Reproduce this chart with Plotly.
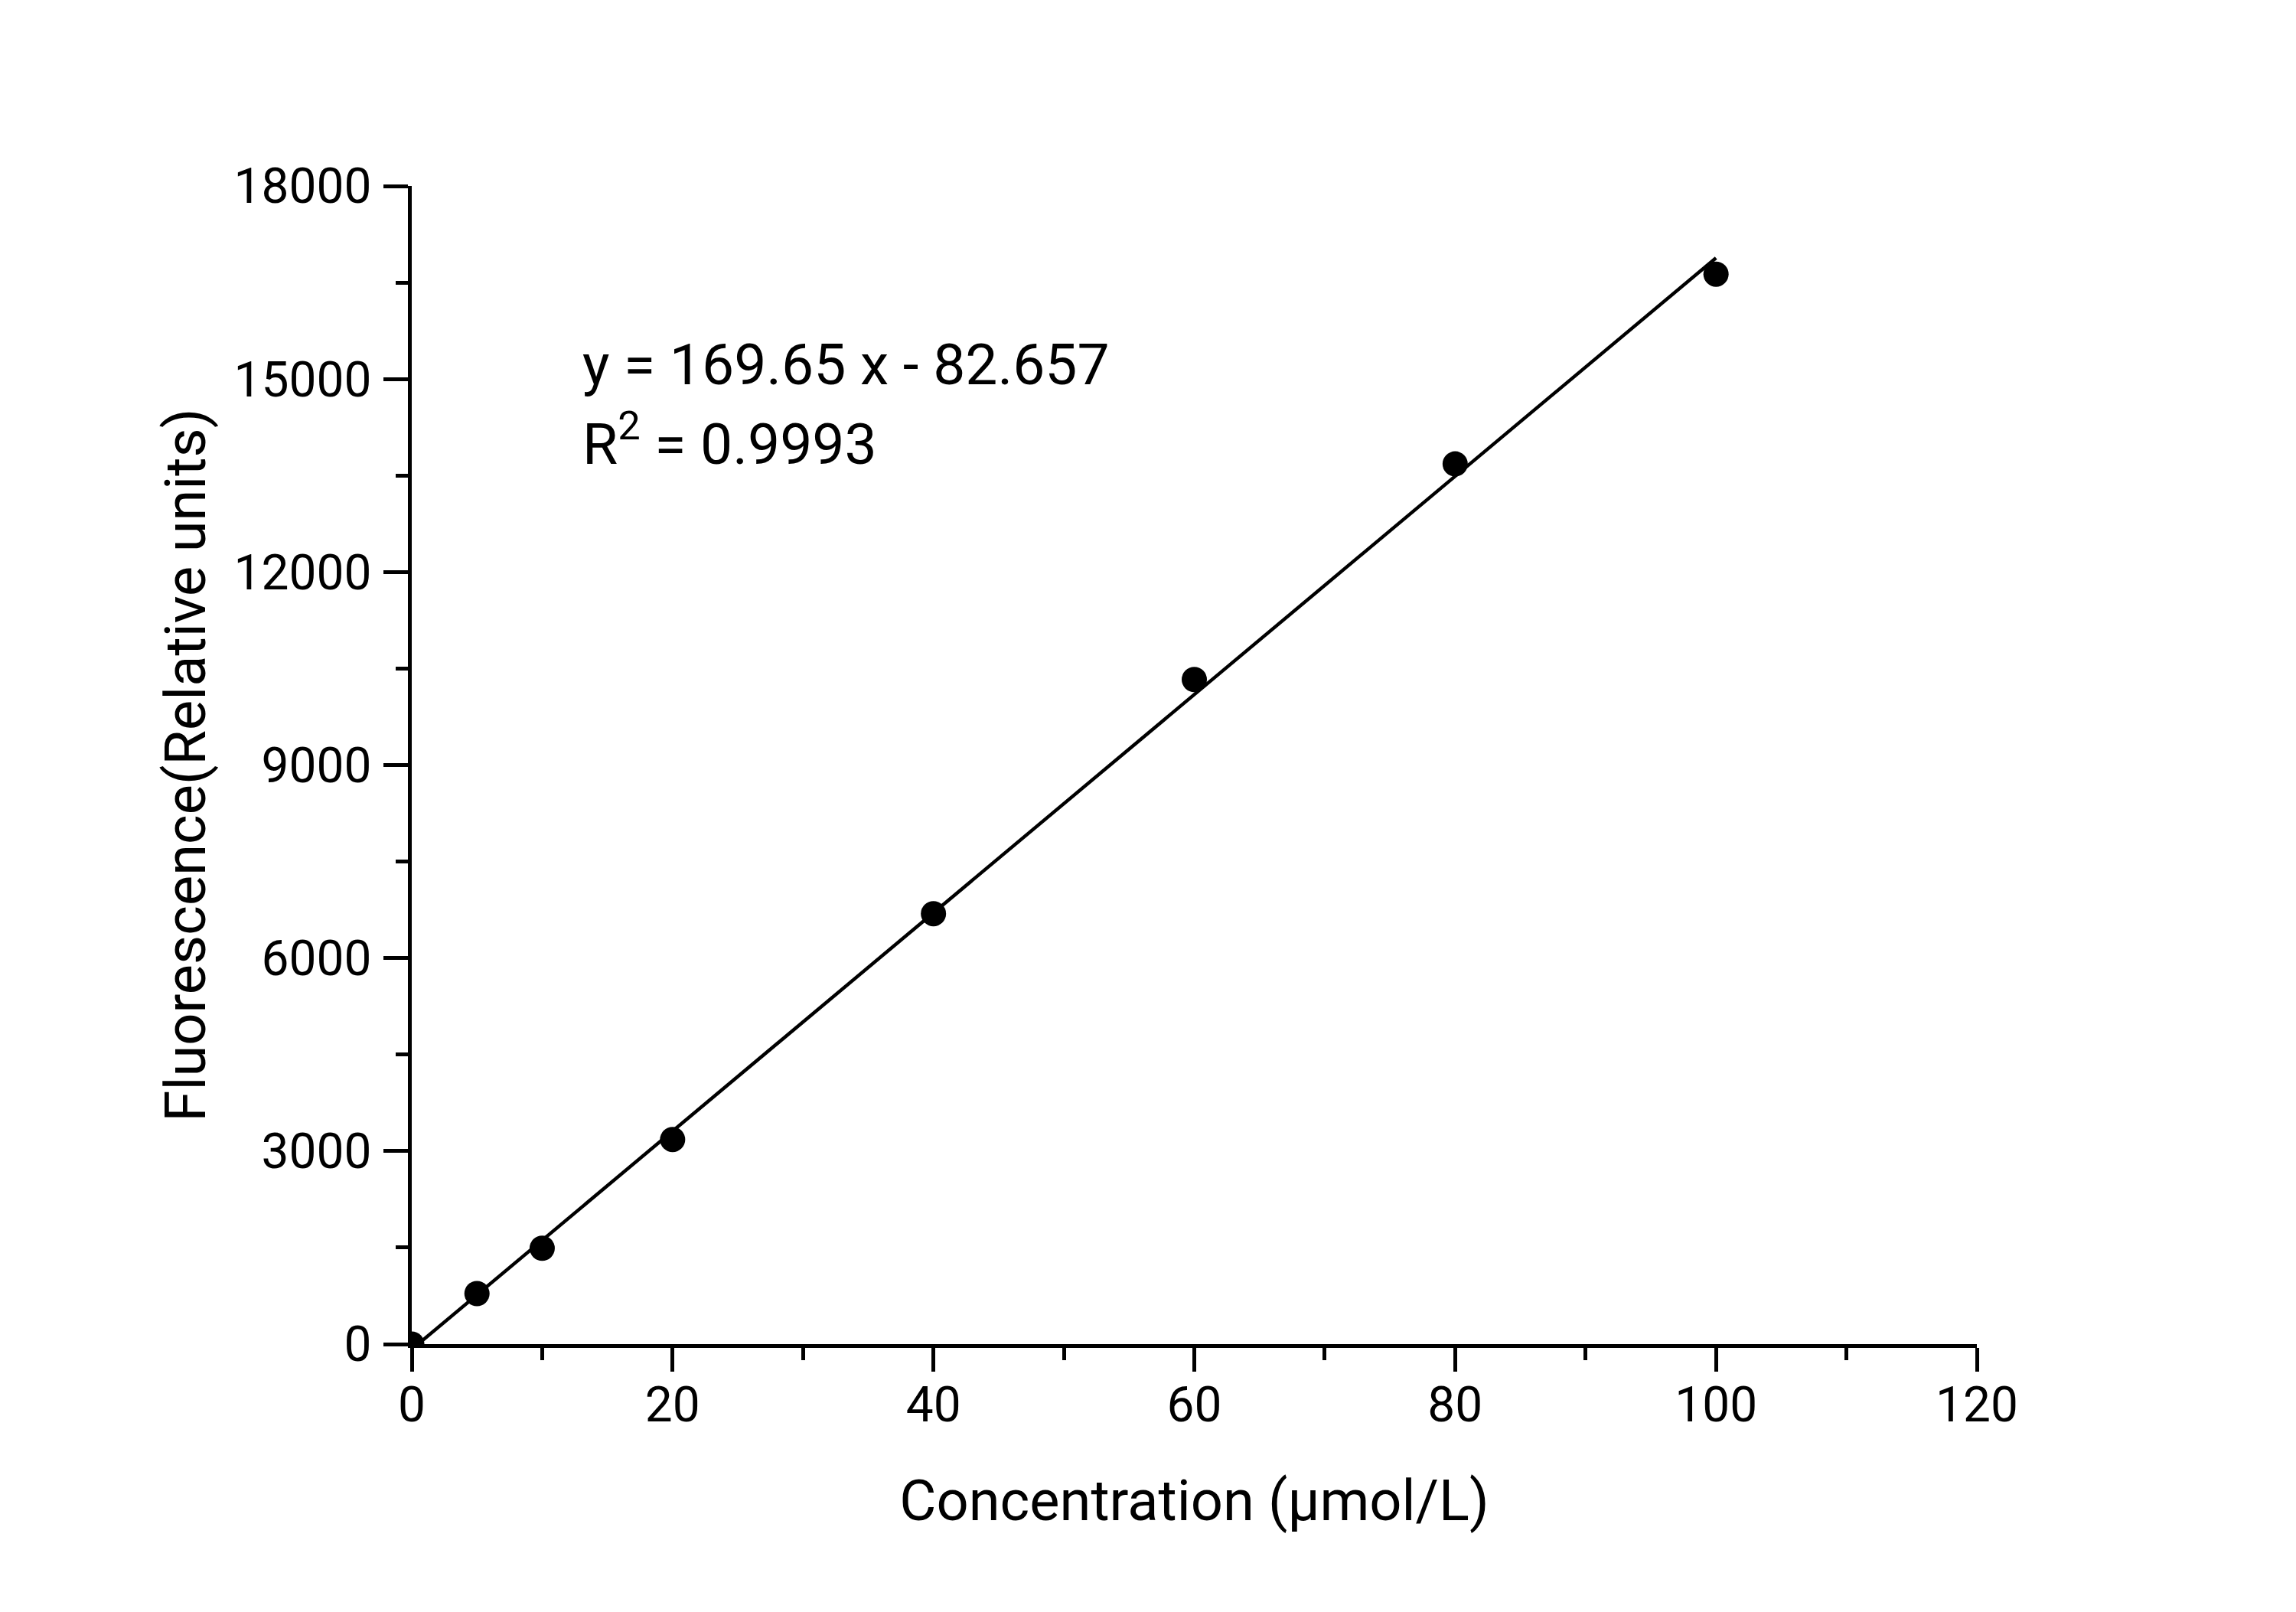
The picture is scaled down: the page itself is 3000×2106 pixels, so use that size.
import plotly.graph_objects as go

# Data
concentration = [0, 5, 10, 20, 40, 60, 80, 100]
fluorescence = [0, 785, 1490, 3180, 6690, 10330, 13680, 16630]

# Linear fit shown on the chart
slope = 169.65
intercept = -82.657
r_squared = 0.9993
fit_x = [0, 100]
fit_y = [slope * v + intercept for v in fit_x]

x_ticks = [0, 20, 40, 60, 80, 100, 120]
x_tick_labels = ["0", "20", "40", "60", "80", "100", "120"]
y_ticks = [0, 3000, 6000, 9000, 12000, 15000, 18000]
y_tick_labels = ["0", "3000", "6000", "9000", "12000", "15000", "18000"]

FONT = "Roboto"

fig = go.Figure()
fig.add_trace(go.Scatter(
    x=fit_x, y=fit_y, mode="lines",
    line=dict(color="black", width=4.5),
    showlegend=False, hoverinfo="skip",
))
fig.add_trace(go.Scatter(
    x=concentration, y=fluorescence, mode="markers",
    marker=dict(color="black", size=33, line=dict(width=0)),
    showlegend=False, cliponaxis=True,
))

fig.add_annotation(
    xref="paper", yref="paper", x=0.108, y=0.846,
    xanchor="left", yanchor="middle", showarrow=False,
    text=f"y = {slope} x - {abs(intercept)}",
    font=dict(family=FONT, size=75, color="black"),
)
fig.add_annotation(
    xref="paper", yref="paper", x=0.108, y=0.7806,
    xanchor="left", yanchor="middle", showarrow=False,
    text=f"R<sup>2</sup> = {r_squared}",
    font=dict(family=FONT, size=75, color="black"),
)

axis_common = dict(
    showgrid=False, zeroline=False,
    showline=True, linecolor="black", linewidth=4.5,
    ticks="outside", tickwidth=4.5, tickcolor="black",
    tickfont=dict(family=FONT, size=64, color="black"),
    mirror=False,
)

fig.update_xaxes(
    **axis_common,
    range=[0, 120], tickmode="array", tickvals=x_ticks, ticktext=x_tick_labels, ticklen=31,
    ticklabelstandoff=-12,
    minor=dict(dtick=10, tick0=0, ticks="outside", ticklen=16, tickwidth=4.5, tickcolor="black"),
    title=dict(text="Concentration (μmol/L)", font=dict(family=FONT, size=74, color="black"), standoff=64),
)
fig.update_yaxes(
    **axis_common,
    range=[0, 18000], tickmode="array", tickvals=y_ticks, ticktext=y_tick_labels, ticklen=32,
    ticklabelstandoff=3,
    minor=dict(dtick=1500, tick0=0, ticks="outside", ticklen=16, tickwidth=4.5, tickcolor="black"),
    title=dict(text="Fluorescence(Relative units)", font=dict(family=FONT, size=74, color="black"), standoff=14),
)

fig.update_layout(
    width=3000, height=2106,
    margin=dict(l=538, r=417, t=243, b=350, autoexpand=False),
    paper_bgcolor="white", plot_bgcolor="white",
    font=dict(family=FONT, color="black"),
)

fig.write_html("out.html")
